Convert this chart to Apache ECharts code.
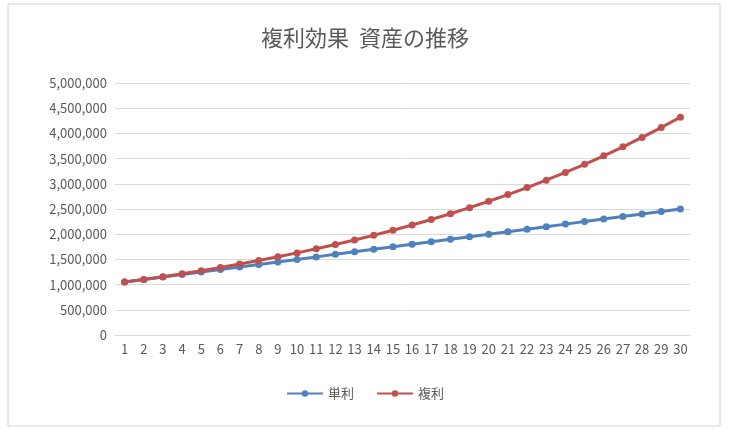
<!DOCTYPE html>
<html><head><meta charset="utf-8">
<script src="https://cdn.jsdelivr.net/npm/echarts@6/dist/echarts.min.js"></script>
<style>body{margin:0;background:#fff}#c{width:730px;height:433px}</style>
</head><body><div id="c"></div>
<script>
// 年数
var years = [];
for (var i = 1; i <= 30; i++) years.push(String(i));
// 単利
var simple = [1050000,1100000,1150000,1200000,1250000,1300000,1350000,1400000,1450000,1500000,
	1550000,1600000,1650000,1700000,1750000,1800000,1850000,1900000,1950000,2000000,
	2050000,2100000,2150000,2200000,2250000,2300000,2350000,2400000,2450000,2500000];
// 複利
var compound = [1050000,1102500,1157625,1215506,1276282,1340096,1407100,1477455,1551328,1628895,
	1710339,1795856,1885649,1979932,2078928,2182875,2292018,2406619,2526950,2653298,
	2785963,2925261,3071524,3225100,3386355,3555673,3733456,3920129,4116136,4321942];

var font = "'Noto Sans CJK JP', sans-serif";
var chart = echarts.init(document.getElementById("c"));
chart.setOption({
	animation: false,
	textStyle: { fontFamily: font },
	graphic: [{ type: 'rect', shape: { x: 8, y: 4, width: 712, height: 422 },
		style: { fill: 'none', stroke: '#d0d0d0', lineWidth: 1 } }],
	title: { text: '複利効果  資産の推移', left: 'center', top: 22,
		textStyle: { fontSize: 22, fontWeight: 'normal', color: '#595959', fontFamily: font } },
	legend: { bottom: 28, itemWidth: 36, itemHeight: 8, itemGap: 22,
		textStyle: { fontSize: 13, color: '#595959' },
		data: ['単利', '複利'] },
	grid: { left: 115, right: 40, top: 83, bottom: 98 },
	xAxis: { type: 'category', data: years,
		axisLine: { lineStyle: { color: '#d9d9d9' } }, axisTick: { show: false },
		axisLabel: { color: '#595959', fontSize: 13, interval: 0 } },
	yAxis: { type: 'value', min: 0, max: 5000000, interval: 500000,
		axisLabel: { color: '#595959', fontSize: 13,
			formatter: function (v) { return v.toLocaleString('en-US'); } },
		splitLine: { lineStyle: { color: '#d9d9d9' } } },
	series: [
		{ name: '単利', type: 'line', data: simple, symbol: 'circle', symbolSize: 7,
			color: '#4f81bd', lineStyle: { width: 3 } },
		{ name: '複利', type: 'line', data: compound, symbol: 'circle', symbolSize: 7,
			color: '#c0504d', lineStyle: { width: 3 } }
	]
});
</script></body></html>
